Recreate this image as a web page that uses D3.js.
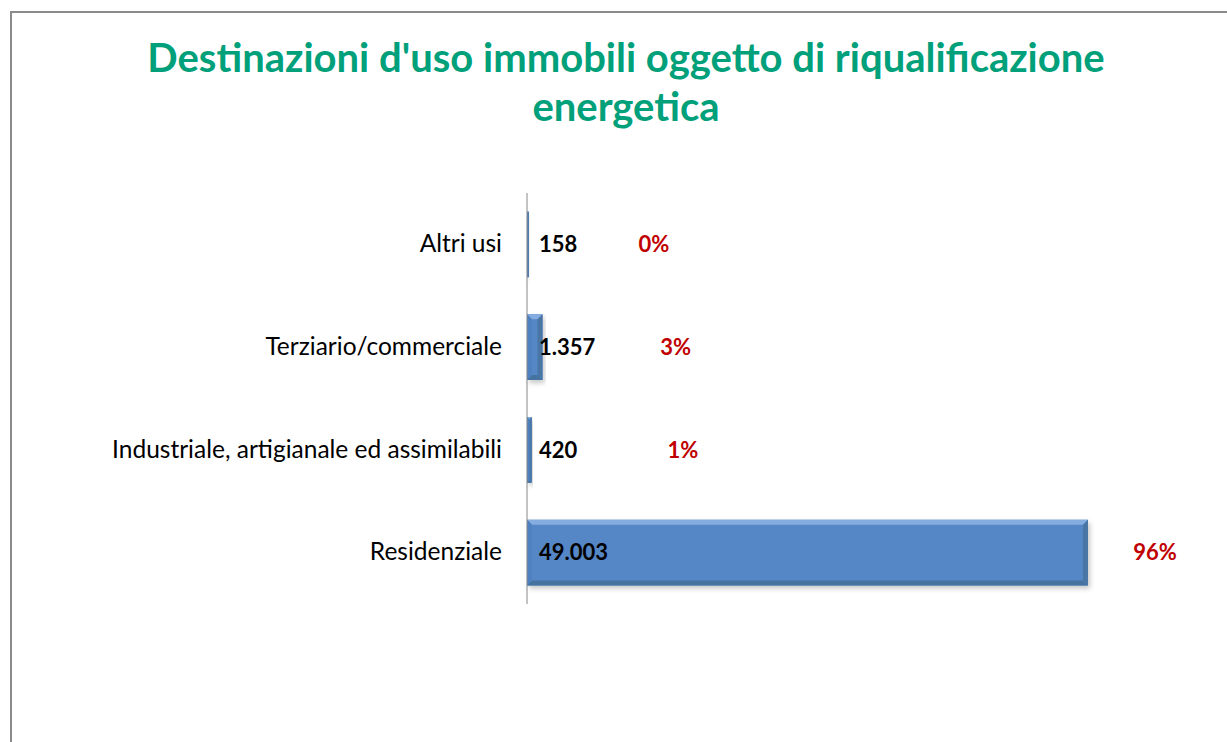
<!DOCTYPE html>
<html>
<head>
<meta charset="utf-8">
<script src="https://cdn.jsdelivr.net/npm/d3@7/dist/d3.min.js"></script>
<style>
  html, body { margin: 0; padding: 0; background: #fff; }
  svg { display: block; }
</style>
</head>
<body>
<svg id="chart" width="1227" height="742"></svg>
<script>
// Categories, top to bottom
const categories = [
  "Altri usi",
  "Terziario/commerciale",
  "Industriale, artigianale ed assimilabili",
  "Residenziale"
];
// Number of buildings per intended use
const values = [158, 1357, 420, 49003];

const titleLines = [
  "Destinazioni d'uso immobili oggetto di riqualificazione",
  "energetica"
];

// Horizontal offset (px) of each percentage label from its bar end
const pctLabelOffset = [125, 133, 151, 67];

const W = 1227, H = 742;
const svg = d3.select("#chart");

const itLocale = d3.formatLocale({ decimal: ",", thousands: ".", grouping: [3], currency: ["€", ""] });
const fmtNum = itLocale.format(",d");
const total = d3.sum(values);
const fmtPct = v => Math.round(v / total * 100) + "%";

// Chart frame
svg.append("path")
  .attr("d", `M11,${H} L11,12 L${W},12`)
  .attr("fill", "none")
  .attr("stroke", "#8a8a8a")
  .attr("stroke-width", 2);

// Title
svg.append("text")
  .attr("x", 626)
  .attr("text-anchor", "middle")
  .attr("fill", "#00a07a")
  .style("font-family", "Lato, 'Open Sans', sans-serif")
  .style("font-weight", "bold")
  .style("font-size", "40px")
  .selectAll("tspan")
  .data(titleLines)
  .join("tspan")
  .attr("x", 626)
  .attr("y", (d, i) => 72 + i * 49)
  .text(d => d);

// Scales
const y = d3.scaleBand()
  .domain(categories)
  .range([193, 604])
  .paddingInner(0.36)
  .paddingOuter(0.18);

const x = d3.scaleLinear()
  .domain([0, 60000])
  .range([527, 527 + 561 * 60000 / 49003]);

const defs = svg.append("defs");
const shadow = defs.append("filter").attr("id", "barShadow")
  .attr("x", "-20%").attr("y", "-20%").attr("width", "140%").attr("height", "150%");
shadow.append("feDropShadow")
  .attr("dx", 2).attr("dy", 3).attr("stdDeviation", 2.5)
  .attr("flood-color", "#000").attr("flood-opacity", 0.22);

// Bars with a bevelled look
const bars = svg.append("g").selectAll("g.bar")
  .data(categories.map((c, i) => ({ c, v: values[i], i })))
  .join("g")
  .attr("class", "bar");

bars.append("rect")
  .attr("x", x(0))
  .attr("y", d => y(d.c))
  .attr("width", d => x(d.v) - x(0))
  .attr("height", y.bandwidth())
  .attr("fill", "#5586c6")
  .attr("filter", "url(#barShadow)");

// bevel: top light edge
bars.append("path")
  .attr("d", d => {
    const x0 = x(0), x1 = x(d.v), y0 = y(d.c), b = Math.min(5, (x1 - x0) / 2);
    return `M${x0},${y0} L${x1},${y0} L${x1 - b},${y0 + b} L${x0 + b},${y0 + b} Z`;
  })
  .attr("fill", "#86ade0");

// bevel: bottom dark edge
bars.append("path")
  .attr("d", d => {
    const x0 = x(0), x1 = x(d.v), y1 = y(d.c) + y.bandwidth(), b = Math.min(5, (x1 - x0) / 2);
    return `M${x0},${y1} L${x1},${y1} L${x1 - b},${y1 - b} L${x0 + b},${y1 - b} Z`;
  })
  .attr("fill", "#46729f");

// bevel: right dark edge
bars.append("path")
  .attr("d", d => {
    const x0 = x(0), x1 = x(d.v), y0 = y(d.c), y1 = y0 + y.bandwidth(), b = Math.min(5, (x1 - x0) / 2);
    return `M${x1},${y0} L${x1},${y1} L${x1 - b},${y1 - b} L${x1 - b},${y0 + b} Z`;
  })
  .attr("fill", "#4a76a6");

// bevel: left edge
bars.append("path")
  .attr("d", d => {
    const x0 = x(0), x1 = x(d.v), y0 = y(d.c), y1 = y0 + y.bandwidth(), b = Math.min(5, (x1 - x0) / 2);
    return `M${x0},${y0} L${x0},${y1} L${x0 + b},${y1 - b} L${x0 + b},${y0 + b} Z`;
  })
  .attr("fill", "#4f80bf");

// Category axis
const axis = svg.append("g")
  .attr("transform", `translate(${x(0)},0)`)
  .call(d3.axisLeft(y).tickSize(0).tickPadding(25));
axis.select(".domain")
  .attr("d", "M0,193V604")
  .attr("stroke", "#888")
  .attr("stroke-width", 1);
axis.selectAll("text")
  .attr("fill", "#000")
  .style("font-family", "Lato, 'Open Sans', sans-serif")
  .style("font-size", "24.5px");

// Value labels
svg.append("g").selectAll("text")
  .data(categories.map((c, i) => ({ c, v: values[i] })))
  .join("text")
  .attr("x", x(0) + 12)
  .attr("y", d => y(d.c) + y.bandwidth() / 2)
  .attr("dy", "0.35em")
  .attr("fill", "#000")
  .style("font-family", "Lato, 'Open Sans', sans-serif")
  .style("font-weight", "bold")
  .style("font-size", "22px")
  .text(d => fmtNum(d.v));

// Percentage labels
svg.append("g").selectAll("text")
  .data(categories.map((c, i) => ({ c, v: values[i], i })))
  .join("text")
  .attr("x", d => x(d.v) + pctLabelOffset[d.i])
  .attr("y", d => y(d.c) + y.bandwidth() / 2)
  .attr("dy", "0.35em")
  .attr("text-anchor", "middle")
  .attr("fill", "#c00000")
  .style("font-family", "Lato, 'Open Sans', sans-serif")
  .style("font-weight", "bold")
  .style("font-size", "22px")
  .text(d => fmtPct(d.v));
</script>
</body>
</html>
